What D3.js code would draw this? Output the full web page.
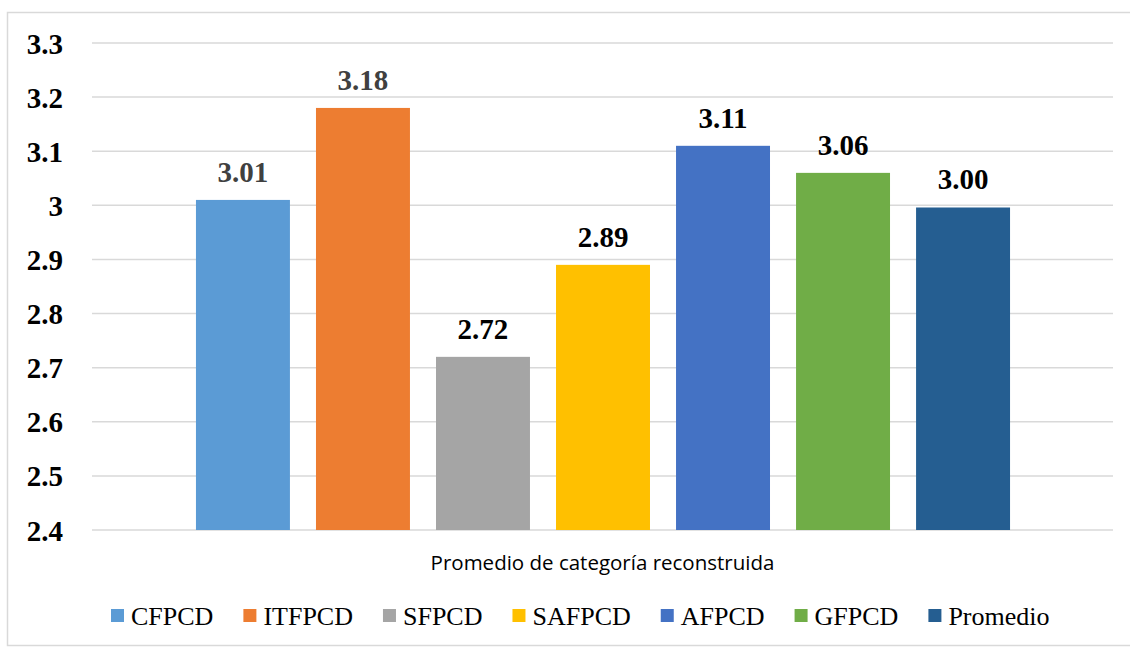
<!DOCTYPE html>
<html>
<head>
<meta charset="utf-8">
<script src="https://cdn.jsdelivr.net/npm/d3@7"></script>
<style>
  html, body { margin: 0; padding: 0; background: #fff; }
  svg { display: block; }
</style>
</head>
<body>
<svg id="chart" width="1130" height="647"></svg>
<script>
// Series shown as one cluster of bars in a single category
const series = ["CFPCD", "ITFPCD", "SFPCD", "SAFPCD", "AFPCD", "GFPCD", "Promedio"];
const values = [3.01, 3.18, 2.72, 2.89, 3.11, 3.06, 2.996];
const colors = ["#5B9BD5", "#ED7D31", "#A5A5A5", "#FFC000", "#4472C4", "#70AD47", "#255E91"];
const labelColors = ["#404040", "#404040", "#000", "#000", "#000", "#000", "#000"];
const yTicks = [2.4, 2.5, 2.6, 2.7, 2.8, 2.9, 3, 3.1, 3.2, 3.3];
const category = "Promedio de categoría reconstruida";

const svg = d3.select("#chart");

// chart area frame
svg.append("rect")
  .attr("x", 7.5).attr("y", 12.5)
  .attr("width", 1130).attr("height", 633)
  .attr("fill", "#fff")
  .attr("stroke", "#D9D9D9")
  .attr("stroke-width", 1.5);

const plot = { left: 92, right: 1113, top: 43, bottom: 530 };

const y = d3.scaleLinear()
  .domain([2.4, 3.3])
  .range([plot.bottom, plot.top]);

const x = d3.scaleBand()
  .domain(series)
  .range([183, 1023])
  .paddingInner(0.217)
  .paddingOuter(0.108);

// horizontal gridlines
svg.append("g")
  .selectAll("line")
  .data(yTicks)
  .join("line")
  .attr("x1", plot.left).attr("x2", plot.right)
  .attr("y1", d => y(d)).attr("y2", d => y(d))
  .attr("stroke", "#D9D9D9")
  .attr("stroke-width", 1.5);

// y axis labels
const yAxis = d3.axisLeft(y)
  .tickValues(yTicks)
  .tickSize(0)
  .tickPadding(0)
  .tickFormat(d => String(d));
const yg = svg.append("g")
  .attr("transform", "translate(63,0)")
  .call(yAxis)
  .attr("font-family", "Liberation Serif")
  .attr("font-size", 29)
  .attr("font-weight", "bold");
yg.select(".domain").remove();
yg.selectAll("text")
  .attr("dy", null)
  .attr("y", 10)
  .attr("fill", "#000");

// bars
svg.append("g")
  .selectAll("rect")
  .data(series)
  .join("rect")
  .attr("x", d => x(d))
  .attr("width", x.bandwidth())
  .attr("y", (d, i) => y(values[i]))
  .attr("height", (d, i) => y(2.4) - y(values[i]))
  .attr("fill", (d, i) => colors[i]);

// value labels
svg.append("g")
  .attr("font-family", "Liberation Serif")
  .attr("font-size", 29)
  .attr("font-weight", "bold")
  .attr("text-anchor", "middle")
  .selectAll("text")
  .data(series)
  .join("text")
  .attr("x", d => x(d) + x.bandwidth() / 2)
  .attr("y", (d, i) => y(values[i]) - 18)
  .attr("fill", (d, i) => labelColors[i])
  .text((d, i) => values[i].toFixed(2));

// category axis title
svg.append("text")
  .attr("x", (plot.left + plot.right) / 2)
  .attr("y", 570)
  .attr("text-anchor", "middle")
  .attr("font-family", "Open Sans")
  .attr("font-size", 20.5)
  .attr("fill", "#000")
  .text(category);

// legend
const legend = svg.append("g")
  .attr("font-family", "Liberation Serif")
  .attr("font-size", 26);
let lx = 111;
series.forEach((s, i) => {
  legend.append("rect")
    .attr("x", lx).attr("y", 609)
    .attr("width", 13).attr("height", 13)
    .attr("fill", colors[i]);
  const t = legend.append("text")
    .attr("x", lx + 20).attr("y", 625)
    .attr("fill", "#000")
    .text(s);
  lx += 20 + t.node().getComputedTextLength() + 30;
});
</script>
</body>
</html>
